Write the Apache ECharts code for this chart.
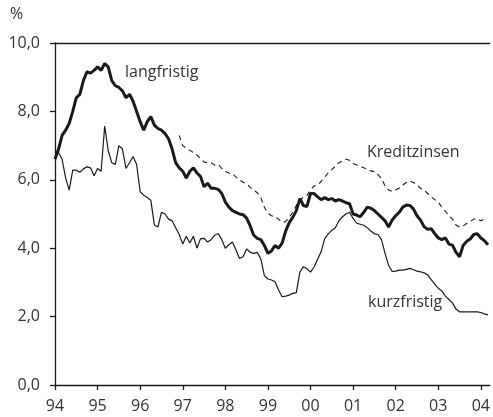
<!DOCTYPE html>
<html>
<head>
<meta charset="utf-8">
<script src="https://cdn.jsdelivr.net/npm/echarts/dist/echarts.min.js"></script>
<style>
  html, body { margin: 0; padding: 0; background: #fff; }
  #main { width: 493px; height: 417px; }
</style>
</head>
<body>
<div id="main"></div>
<script>
var myChart = echarts.init(document.getElementById('main'));

// monthly values, Jan 1994 onwards
var startYear = 1994;

var langfristig = [
  6.6, 6.9, 7.3, 7.45, 7.65, 8.0, 8.4, 8.5, 8.9, 9.16, 9.12, 9.2,
  9.3, 9.2, 9.4, 9.3, 8.9, 8.75, 8.7, 8.6, 8.4, 8.5, 8.3, 8.0,
  7.7, 7.45, 7.7, 7.85, 7.6, 7.5, 7.45, 7.35, 7.2, 6.9, 6.5, 6.35,
  6.25, 6.05, 6.25, 6.35, 6.2, 6.1, 5.8, 5.9, 5.75, 5.75, 5.72, 5.6,
  5.35, 5.2, 5.1, 5.05, 5.0, 4.98, 4.88, 4.65, 4.38, 4.29, 4.25, 4.08,
  3.85, 3.92, 4.08, 4.0, 4.15, 4.5, 4.75, 4.9, 5.1, 5.45, 5.25, 5.22,
  5.6, 5.6, 5.5, 5.42, 5.48, 5.42, 5.45, 5.38, 5.42, 5.38, 5.33, 5.3,
  5.0, 4.97, 4.92, 5.05, 5.2, 5.17, 5.1, 5.0, 4.9, 4.8, 4.62, 4.82,
  4.95, 5.05, 5.2, 5.26, 5.25, 5.15, 4.95, 4.82, 4.63, 4.55, 4.57, 4.43,
  4.3, 4.25, 4.3, 4.12, 4.09, 3.88, 3.75, 4.08, 4.2, 4.27, 4.4, 4.42,
  4.3, 4.22, 4.1
];

var kurzfristig = [
  6.85, 6.8, 6.6, 6.05, 5.7, 6.28, 6.28, 6.22, 6.32, 6.38, 6.35, 6.12,
  6.33, 6.25, 7.57, 6.85, 6.5, 6.45, 7.0, 6.9, 6.33, 6.5, 6.68, 6.45,
  5.65, 5.55, 5.48, 5.4, 4.68, 4.62, 5.05, 5.0, 4.85, 4.8, 4.6, 4.4,
  4.12, 4.35, 4.15, 4.35, 4.0, 4.28, 4.29, 4.18, 4.25, 4.38, 4.43, 4.25,
  4.0, 4.1, 4.18, 3.95, 3.7, 3.75, 3.98, 3.88, 3.85, 3.88, 3.68, 3.2,
  3.1, 3.07, 3.02, 2.78, 2.58, 2.6, 2.63, 2.68, 2.7, 3.3, 3.46, 3.4,
  3.3, 3.45, 3.68, 3.9, 4.28, 4.42, 4.52, 4.6, 4.8, 4.92, 5.0, 5.05,
  4.87, 4.73, 4.7, 4.67, 4.6, 4.5, 4.42, 4.4, 4.25, 3.85, 3.5, 3.32,
  3.33, 3.36, 3.36, 3.38, 3.41, 3.37, 3.33, 3.31, 3.28, 3.22, 3.08, 2.95,
  2.83, 2.75, 2.6, 2.5, 2.4, 2.22, 2.14, 2.14, 2.14, 2.14, 2.14, 2.14,
  2.12, 2.08, 2.05
];

// starts Dec 1996 (month index 35)
var kreditStart = 35;
var kreditzinsen = [
  7.3,
  7.0, 6.92, 6.86, 6.8, 6.72, 6.62, 6.52, 6.5, 6.5, 6.43, 6.45, 6.33,
  6.24, 6.2, 6.18, 6.08, 6.0, 5.93, 5.88, 5.78, 5.7, 5.62, 5.48, 5.2,
  5.02, 4.95, 4.92, 4.85, 4.75, 4.78, 4.9, 5.05, 5.25, 5.4, 5.5, 5.55,
  5.7, 5.82, 5.85, 5.95, 6.08, 6.2, 6.3, 6.4, 6.5, 6.55, 6.6, 6.57,
  6.48, 6.43, 6.4, 6.35, 6.3, 6.26, 6.24, 6.15, 6.04, 5.82, 5.7, 5.66,
  5.7, 5.76, 5.85, 5.92, 5.97, 5.92, 5.85, 5.75, 5.7, 5.6, 5.5, 5.42,
  5.35, 5.2, 5.08, 4.95, 4.85, 4.68, 4.62, 4.65, 4.72, 4.78, 4.85, 4.86,
  4.8, 4.85
];

var toPoints = function (values, offset) {
    var res = [];
    for (var i = 0; i < values.length; i++) {
        res.push([startYear + (i + offset) / 12, values[i]]);
    }
    return res;
};

var font = '"Open Sans", sans-serif';
var ink = '#1a1a1a';
var textColor = '#333';

option = {
    animation: false,
    grid: { left: 55, right: 0, top: 43, bottom: 32 },
    xAxis: [
        {
            type: 'value',
            min: 1994,
            max: 2004.21,
            interval: 1,
            axisLine: { lineStyle: { color: ink, width: 1.3 } },
            axisTick: { show: true, inside: false, length: 5, lineStyle: { color: ink, width: 1.3 } },
            axisLabel: {
                margin: 13,
                color: textColor,
                fontFamily: font,
                fontSize: 16,
                showMaxLabel: false,
                formatter: function (v) {
                    var y = Math.round(v) % 100;
                    return (y < 10 ? '0' : '') + y;
                }
            },
            splitLine: { show: false }
        },
        {
            type: 'value',
            position: 'top',
            min: 1994,
            max: 2004.21,
            axisLine: { show: true, onZero: false, lineStyle: { color: ink, width: 1.3 } },
            axisTick: { show: false },
            axisLabel: { show: false },
            splitLine: { show: false }
        }
    ],
    yAxis: {
        type: 'value',
        min: 0,
        max: 10,
        interval: 2,
        axisLine: { show: true, lineStyle: { color: ink, width: 1.3 } },
        axisTick: { show: true, inside: false, length: 5, lineStyle: { color: ink, width: 1.3 } },
        axisLabel: {
            margin: 15,
            color: textColor,
            fontFamily: font,
            fontSize: 16,
            formatter: function (v) {
                return v.toFixed(1).replace('.', ',');
            }
        },
        splitLine: { show: false }
    },
    graphic: [
        { type: 'text', left: 10, top: 6, style: { text: '%', font: '16px ' + font, fill: textColor } },
        { type: 'text', left: 125, top: 64, style: { text: 'langfristig', font: '16px ' + font, fill: textColor } },
        { type: 'text', left: 367, top: 144, style: { text: 'Kreditzinsen', font: '16px ' + font, fill: textColor } },
        { type: 'text', left: 368, top: 294, style: { text: 'kurzfristig', font: '16px ' + font, fill: textColor } }
    ],
    series: [
        {
            name: 'Kreditzinsen',
            type: 'line',
            data: toPoints(kreditzinsen, kreditStart),
            symbol: 'none',
            lineStyle: { color: ink, width: 1.1, type: [5, 4] }
        },
        {
            name: 'kurzfristig',
            type: 'line',
            data: toPoints(kurzfristig, 0),
            symbol: 'none',
            lineStyle: { color: ink, width: 1.2 }
        },
        {
            name: 'langfristig',
            type: 'line',
            data: toPoints(langfristig, 0),
            symbol: 'none',
            lineStyle: { color: ink, width: 3 }
        }
    ]
};

myChart.setOption(option);
</script>
</body>
</html>
